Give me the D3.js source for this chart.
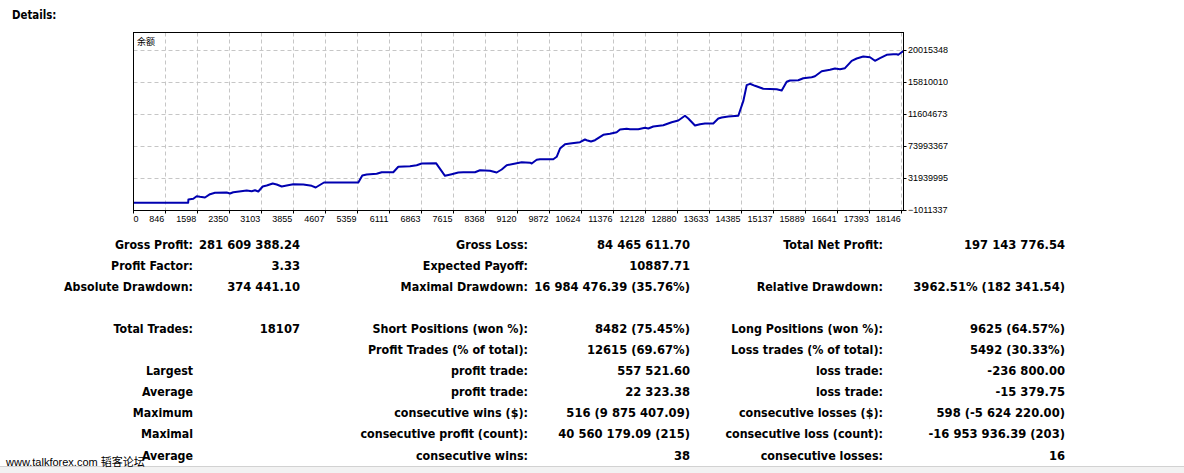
<!DOCTYPE html>
<html><head><meta charset="utf-8">
<script src="https://cdn.jsdelivr.net/npm/d3@7"></script>
<style>body{margin:0;background:#fff;overflow:hidden}svg{display:block}</style>
</head><body>
<svg id="c" width="1184" height="473"></svg>
<script>
// ---- data ----
const tradeIdx = [0,1285,1290,1405,1485,1563,1680,1798,1915,2190,2268,2345,2483,2660,2778,2855,2933,3036,3130,3271,3365,3483,3600,3755,3990,4188,4282,4359,4477,5283,5377,5480,5715,5833,6105,6223,6498,6655,6773,7109,7320,7478,7633,7750,8025,8143,8378,8535,8653,8770,9005,9123,9318,9358,9475,9553,9865,9945,10023,10140,10258,10493,10610,10650,10751,10845,11040,11198,11355,11433,11590,11668,11863,12020,12098,12215,12450,12648,12803,12960,13038,13195,13313,13430,13625,13743,13823,13978,14213,14330,14410,14488,14605,14800,15115,15233,15350,15428,15623,15740,15938,16015,16173,16368,16485,16603,16720,16878,16995,17150,17308,17425,17543,17700,17855,17935,17973,18107];
const balance = [10000,10000,4340000,5260000,8680000,7890000,6970000,11310000,13150000,13540000,12230000,13940000,14860000,16170000,15250000,16560000,14860000,21430000,22740000,25370000,24060000,21430000,22740000,24450000,24060000,22350000,20110000,22740000,26680000,26680000,35880000,37200000,38120000,40220000,40220000,47320000,48100000,49420000,51650000,52050000,35490000,37590000,39820000,40220000,40220000,42850000,42060000,39820000,43770000,49420000,52050000,53360000,52700000,51650000,56510000,57300000,57300000,60460000,71360000,77020000,77940000,79640000,83190000,82270000,80560000,82270000,89370000,90680000,92790000,96330000,97250000,96730000,96730000,98570000,97650000,100280000,101990000,105930000,108160000,114340000,110790000,101590000,103300000,104220000,104220000,110790000,112100000,113420000,114340000,133530000,154550000,156390000,153760000,149820000,149300000,147590000,159020000,160730000,161120000,163750000,165070000,166380000,172950000,174790000,176500000,175580000,176890000,186620000,189640000,192270000,191350000,186620000,190030000,194500000,195290000,195290000,194500000,200150000];
const xTickLabels = ["0","846","1598","2350","3103","3855","4607","5359","6111","6863","7615","8368","9120","9872","10624","11376","12128","12880","13633","14385","15137","15889","16641","17393","18146"];
const yTickValues = [-10113376,31939995,73993367,116046738,158100109,200153480];
const seriesName = "余额";
const heading = "Details:";
const watermark = "www.talkforex.com 韬客论坛";

const col1Labels = ["Gross Profit:","Profit Factor:","Absolute Drawdown:","","Total Trades:","","Largest","Average","Maximum","Maximal","Average"];
const col1Values = ["281 609 388.24","3.33","374 441.10","","18107","","","","","",""];
const col2Labels = ["Gross Loss:","Expected Payoff:","Maximal Drawdown:","","Short Positions (won %):","Profit Trades (% of total):","profit trade:","profit trade:","consecutive wins ($):","consecutive profit (count):","consecutive wins:"];
const col2Values = ["84 465 611.70","10887.71","16 984 476.39 (35.76%)","","8482 (75.45%)","12615 (69.67%)","557 521.60","22 323.38","516 (9 875 407.09)","40 560 179.09 (215)","38"];
const col3Labels = ["Total Net Profit:","","Relative Drawdown:","","Long Positions (won %):","Loss trades (% of total):","loss trade:","loss trade:","consecutive losses ($):","consecutive loss (count):","consecutive losses:"];
const col3Values = ["197 143 776.54","","3962.51% (182 341.54)","","9625 (64.57%)","5492 (30.33%)","-236 800.00","-15 379.75","598 (-5 624 220.00)","-16 953 936.39 (203)","16"];

// ---- layout ----
const svg = d3.select("#c");
const L = 133.5, R = 903.5, T = 32.5, B = 210.5;
const x = d3.scaleLinear().domain([0, 18107]).range([L, R + 0.5]);
const xg = d3.scalePoint().domain(xTickLabels).range([133.3, 901.7]);
const y = d3.scaleLinear().domain([yTickValues[0], yTickValues[yTickValues.length-1]]).range([210.5, 50.5]);
const crisp = v => Math.round(v - 0.5) + 0.5;

const axisFont = "'Liberation Sans', Arial, sans-serif";
const tblFont = "'DejaVu Sans', Verdana, sans-serif";

svg.append("text").attr("transform", "translate(12,19) scale(0.82,1)").attr("font-family", tblFont)
  .attr("font-weight", "bold").attr("font-size", 12.5).attr("fill", "#000").text(heading);

svg.append("defs").call(d => {
  d.append("clipPath").attr("id", "plotclip").append("rect").attr("x", L).attr("y", T).attr("width", R - L).attr("height", B - T);
  d.append("clipPath").attr("id", "ylabclip").append("rect").attr("x", 900).attr("y", 30).attr("width", 48).attr("height", 200);
});

const g = svg.append("g");
// grid
g.selectAll(".vg").data(xTickLabels.slice(1)).join("line")
  .attr("x1", d => crisp(xg(d))).attr("x2", d => crisp(xg(d)))
  .attr("y1", T).attr("y2", B)
  .attr("stroke", "#c6c6c6").attr("stroke-dasharray", "4,3");
g.selectAll(".hg").data(yTickValues.slice(1)).join("line")
  .attr("x1", L).attr("x2", R)
  .attr("y1", d => crisp(y(d))).attr("y2", d => crisp(y(d)))
  .attr("stroke", "#c6c6c6").attr("stroke-dasharray", "4,3");

// ticks
g.selectAll(".xt").data(xTickLabels).join("line")
  .attr("x1", d => crisp(xg(d))).attr("x2", d => crisp(xg(d)))
  .attr("y1", B).attr("y2", B + 3).attr("stroke", "#000");
g.selectAll(".yt").data(yTickValues).join("line")
  .attr("x1", R).attr("x2", R + 3)
  .attr("y1", d => crisp(y(d))).attr("y2", d => crisp(y(d))).attr("stroke", "#000");

// labels
g.selectAll(".xl").data(xTickLabels).join("text")
  .attr("x", (d, i) => i === 0 ? L : xg(d) - 1)
  .attr("y", 221.5)
  .attr("text-anchor", (d, i) => i === 0 ? "start" : "end")
  .attr("font-family", axisFont).attr("font-size", 9).attr("fill", "#000")
  .text(d => d);
g.append("g").attr("clip-path", "url(#ylabclip)")
  .selectAll("text").data(yTickValues).join("text")
  .attr("x", 908).attr("y", d => y(d) + 2.5)
  .attr("font-family", axisFont).attr("font-size", 9).attr("fill", "#000")
  .text(d => d3.format("d")(d));

// series
g.append("path").datum(tradeIdx.map((t, i) => [t, balance[i]]))
  .attr("clip-path", "url(#plotclip)")
  .attr("fill", "none").attr("stroke", "#0000b0").attr("stroke-width", 2)
  .attr("stroke-linejoin", "round")
  .attr("d", d3.line().x(d => x(d[0])).y(d => y(d[1])));

// frame
g.append("rect").attr("x", L).attr("y", T).attr("width", R - L).attr("height", B - T)
  .attr("fill", "none").attr("stroke", "#000");
g.append("text").attr("x", 137).attr("y", 45).attr("font-family", "'Noto Sans CJK SC', sans-serif")
  .attr("font-size", 9).attr("fill", "#000").text(seriesName);

// table
const rowY = d3.scaleLinear().domain([0, 10]).range([249, 459.5]);
const cols = [
  [col1Labels, 193, 0.92], [col1Values, 300, 0.965],
  [col2Labels, 528, 0.93], [col2Values, 690, 0.965],
  [col3Labels, 883, 0.93], [col3Values, 1065, 0.965]
];
cols.forEach(([arr, xr, sx]) => {
  svg.append("g").selectAll("text").data(arr).join("text")
    .attr("transform", (d, i) => `translate(${xr},${rowY(i)}) scale(${sx},1)`)
    .attr("text-anchor", "end")
    .attr("font-family", tblFont).attr("font-weight", "bold").attr("font-size", 12)
    .attr("fill", "#000").text(d => d);
});

// bottom strip and watermark
svg.append("rect").attr("x", 0).attr("y", 467).attr("width", 1184).attr("height", 6).attr("fill", "#f2f2f2");
svg.append("line").attr("x1", 0).attr("x2", 1184).attr("y1", 466.5).attr("y2", 466.5).attr("stroke", "#d2d2d2");
svg.append("text").attr("x", 6).attr("y", 466).attr("font-family", "'Liberation Sans', Arial, 'Noto Sans CJK SC', sans-serif")
  .attr("font-size", 11).attr("fill", "#000").text(watermark);
</script>
</body></html>
